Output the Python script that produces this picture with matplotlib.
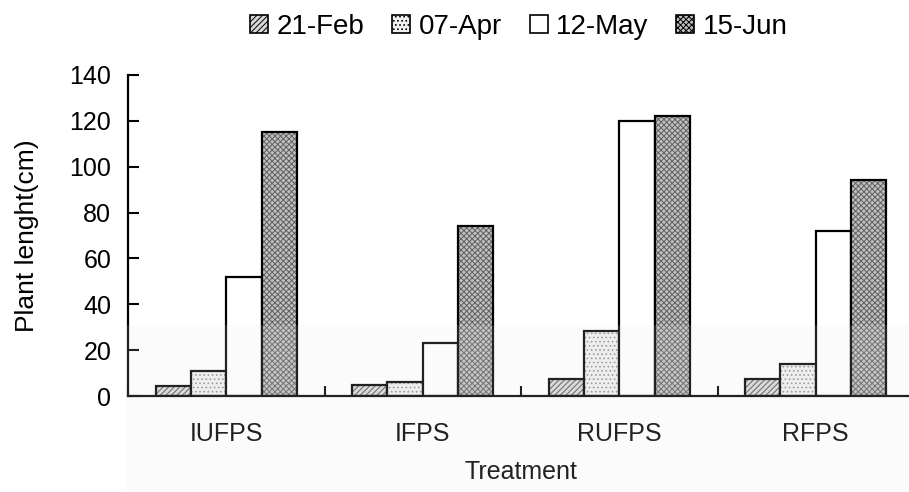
import matplotlib.pyplot as plt
import numpy as np
from matplotlib.patches import Rectangle

plt.rcParams['font.family'] = ['Liberation Sans', 'DejaVu Sans']
plt.rcParams['hatch.linewidth'] = 0.7

# 데이터
treatments = ['IUFPS', 'IFPS', 'RUFPS', 'RFPS']
dates = ['21-Feb', '07-Apr', '12-May', '15-Jun']
feb21 = [4.5, 5.0, 7.5, 7.5]
apr07 = [11, 6, 28.5, 14]
may12 = [52, 23, 120, 72]
jun15 = [115, 74, 122, 94]

series = [feb21, apr07, may12, jun15]
faces = ['#d8d8d8', '#f0f0f0', 'white', '#c0c0c0']
hatch_cols = ['#505050', '#909090', 'white', '#606060']
hatches = ['//////', '....', '', 'xxxxxx']

fig = plt.figure(figsize=(9.09, 4.92), dpi=100)
ax = fig.add_axes([128 / 909, (492 - 396) / 492, (914 - 128) / 909, (396 - 75) / 492])

x = np.arange(len(treatments))
w = 0.18
for i, vals in enumerate(series):
    pos = x + (i - 1.5) * w
    # 무늬 먼저, 테두리는 따로
    ax.bar(pos, vals, w, color=faces[i], hatch=hatches[i], edgecolor=hatch_cols[i], linewidth=0)
    ax.bar(pos, vals, w, fill=False, edgecolor='black', linewidth=1.6)

ax.set_xlim(-0.5, 3.5)
ax.set_ylim(0, 140)
ax.set_yticks(range(0, 141, 20))
ax.set_xticks(x)
ax.set_xticklabels(treatments)
ax.set_xticks(np.arange(-0.5, 4, 1), minor=True)
ax.tick_params(axis='x', which='major', length=0, pad=19, labelsize=18)
ax.tick_params(axis='x', which='minor', direction='in', length=7, width=1.5)
ax.tick_params(axis='y', direction='in', length=8, width=1.5, labelsize=18, pad=12)
for s in ['top', 'right']:
    ax.spines[s].set_visible(False)
for s in ['left', 'bottom']:
    ax.spines[s].set_linewidth(1.6)

ax.set_ylabel('Plant lenght(cm)', fontsize=19, labelpad=22)
ax.set_xlabel('Treatment', fontsize=18, labelpad=10)

handles = [Rectangle((0, 0), 1, 1, facecolor=faces[i], hatch=hatches[i], edgecolor='black', linewidth=1.2)
           for i in range(4)]
ax.legend(handles, dates, loc='upper center', bbox_to_anchor=(519 / 909, 1.0), bbox_transform=fig.transFigure,
          ncol=4, frameon=False, fontsize=20, handlelength=0.65, handleheight=0.65,
          handletextpad=0.3, columnspacing=1.0, borderaxespad=0.1)

# 워터마크 띠
fig.patches.append(Rectangle((127 / 909, 0), 1, (492 - 325) / 492, transform=fig.transFigure,
                             facecolor='#e6e6e6', alpha=0.15, edgecolor='none', zorder=10))

fig.savefig('out.png', dpi=100)
